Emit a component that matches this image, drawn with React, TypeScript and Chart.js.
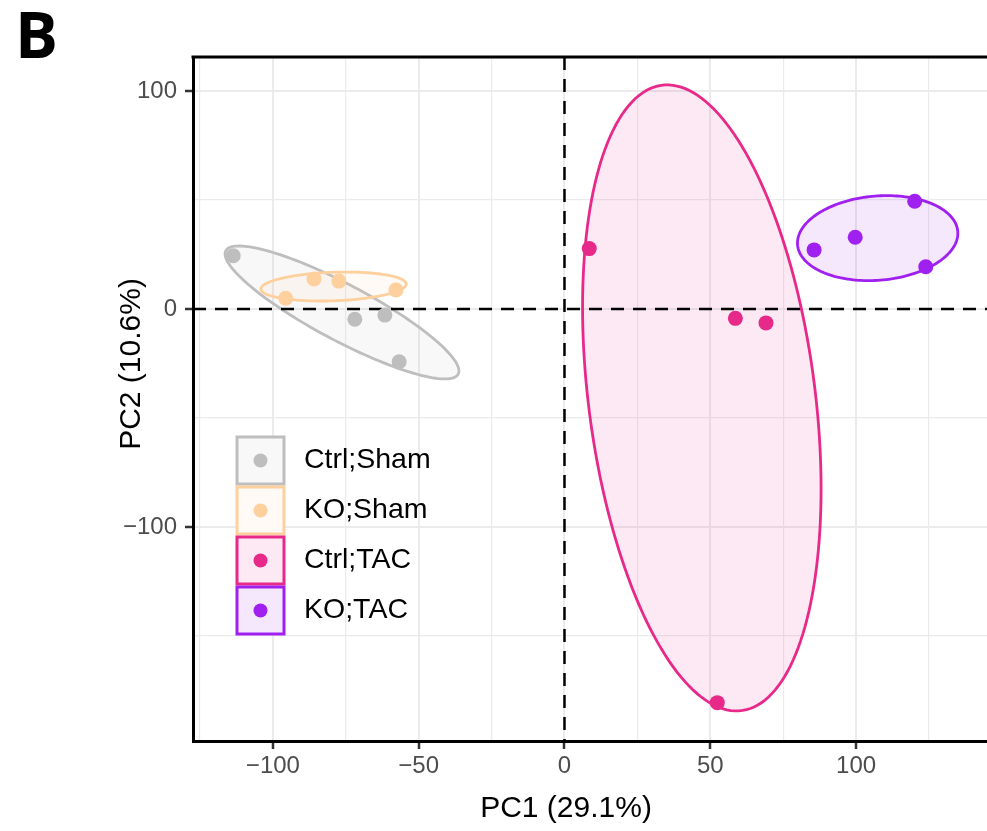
import React, { useEffect, useRef } from "react";
import { Chart, registerables } from "chart.js";

Chart.register(...registerables);

// ---- data ----
const groups = ["Ctrl;Sham", "KO;Sham", "Ctrl;TAC", "KO;TAC"];
const groupColors = ["#BEBEBE", "#FDD09E", "#E7298A", "#A020F0"];

const ctrlShamPC1 = [-113.6, -71.9, -61.6, -56.7];
const ctrlShamPC2 = [24.4, -4.7, -2.8, -24.2];
const koShamPC1 = [-95.6, -85.9, -77.4, -57.8];
const koShamPC2 = [4.9, 13.8, 12.8, 8.7];
const ctrlTacPC1 = [8.5, 58.6, 69.1, 52.4];
const ctrlTacPC2 = [27.7, -4.3, -6.4, -180.6];
const koTacPC1 = [85.6, 99.7, 120.1, 123.9];
const koTacPC2 = [27.1, 32.9, 49.4, 19.4];

// confidence ellipses per group (centre, half extents, correlation), in data units
const ellipseCX = [-76.3, -79.2, 47.1, 107.4];
const ellipseCY = [-1.6, 10.3, -40.8, 32.5];
const ellipseSX = [40.1, 24.9, 40.9, 27.5];
const ellipseSY = [30.5, 6.65, 143.6, 19.5];
const ellipseRho = [-0.88, 0.17, -0.29, 0.115];

const xMin = -127.4;
const xMax = 144.9;
const yMin = -198.2;
const yMax = 115.6;
const xTitle = "PC1 (29.1%)";
const yTitle = "PC2 (10.6%)";
const panelLabel = "B";

const seriesX = [ctrlShamPC1, koShamPC1, ctrlTacPC1, koTacPC1];
const seriesY = [ctrlShamPC2, koShamPC2, ctrlTacPC2, koTacPC2];

const FONT = "'Liberation Sans', Arial, Helvetica, sans-serif";
const CANVAS_W = 987;
const CANVAS_H = 831;

function hexA(hex: string, a: number) {
  const r = parseInt(hex.slice(1, 3), 16);
  const g = parseInt(hex.slice(3, 5), 16);
  const b = parseInt(hex.slice(5, 7), 16);
  return `rgba(${r},${g},${b},${a})`;
}

function fmt(v: number) {
  return v < 0 ? "\u2212" + Math.abs(v) : String(v);
}

const decorPlugin = {
  id: "decor",
  beforeDatasetsDraw(chart: any) {
    const { ctx, chartArea: a, scales } = chart;
    const xs = scales.x;
    const ys = scales.y;
    ctx.save();
    ctx.beginPath();
    ctx.rect(a.left, a.top, a.right - a.left, a.bottom - a.top);
    ctx.clip();
    for (let g = 0; g < groups.length; g++) {
      const cx = ellipseCX[g], cy = ellipseCY[g], sx = ellipseSX[g], sy = ellipseSY[g], r = ellipseRho[g];
      const q = Math.sqrt(1 - r * r);
      ctx.beginPath();
      const n = 180;
      for (let i = 0; i <= n; i++) {
        const t = (i / n) * Math.PI * 2;
        const dx = cx + sx * Math.cos(t);
        const dy = cy + sy * (r * Math.cos(t) + q * Math.sin(t));
        const px = xs.getPixelForValue(dx);
        const py = ys.getPixelForValue(dy);
        if (i === 0) ctx.moveTo(px, py);
        else ctx.lineTo(px, py);
      }
      ctx.closePath();
      ctx.fillStyle = hexA(groupColors[g], 0.1);
      ctx.fill();
      ctx.lineWidth = 2.8;
      ctx.strokeStyle = groupColors[g];
      ctx.stroke();
    }
    ctx.setLineDash([13, 9]);
    ctx.lineWidth = 2.5;
    ctx.strokeStyle = "#000";
    const x0 = xs.getPixelForValue(0);
    const y0 = ys.getPixelForValue(0);
    ctx.beginPath();
    ctx.moveTo(x0, a.top);
    ctx.lineTo(x0, a.bottom);
    ctx.stroke();
    ctx.beginPath();
    ctx.moveTo(a.left, y0);
    ctx.lineTo(a.right, y0);
    ctx.stroke();
    ctx.restore();
  },
  afterDraw(chart: any) {
    const { ctx, chartArea: a } = chart;
    ctx.save();
    ctx.strokeStyle = "#000";
    ctx.lineWidth = 3;
    ctx.beginPath();
    ctx.moveTo(a.left - 1.5, a.top);
    ctx.lineTo(a.right, a.top);
    ctx.stroke();
    // legend
    const bx = 237, by = 437, bw = 47, bh = 47, pitch = 50;
    ctx.textBaseline = "middle";
    ctx.textAlign = "left";
    ctx.font = `28.5px ${FONT}`;
    for (let g = 0; g < groups.length; g++) {
      const top = by + g * pitch;
      ctx.fillStyle = "#fff";
      ctx.fillRect(bx, top, bw, bh);
      ctx.fillStyle = hexA(groupColors[g], 0.1);
      ctx.fillRect(bx, top, bw, bh);
      ctx.lineWidth = 3;
      ctx.strokeStyle = groupColors[g];
      ctx.strokeRect(bx, top, bw, bh);
      ctx.beginPath();
      ctx.arc(bx + bw / 2, top + bh / 2, 7, 0, Math.PI * 2);
      ctx.fillStyle = groupColors[g];
      ctx.fill();
      ctx.fillStyle = "#000";
      ctx.fillText(groups[g], 304, top + bh / 2);
    }
    ctx.fillStyle = "#000";
    ctx.font = `30px ${FONT}`;
    ctx.textAlign = "center";
    ctx.fillText(xTitle, 566, 809);
    ctx.save();
    ctx.translate(132, 364);
    ctx.rotate(-Math.PI / 2);
    ctx.fillText(yTitle, 0, 0);
    ctx.restore();
    ctx.font = `bold 64px 'Open Sans', ${FONT}`;
    ctx.textAlign = "left";
    ctx.textBaseline = "alphabetic";
    ctx.fillText(panelLabel, 15, 58);
    ctx.restore();
  },
};

export default function App() {
  const ref = useRef<HTMLCanvasElement | null>(null);
  useEffect(() => {
    if (!ref.current) return;
    const datasets = groups.map((g, i) => ({
      label: g,
      data: seriesX[i].map((x, j) => ({ x, y: seriesY[i][j] })),
      backgroundColor: groupColors[i],
      borderWidth: 0,
      pointRadius: 7.5,
      pointHoverRadius: 7.5,
    }));
    const gridCommon = (major: (v: number) => boolean) => ({
      color: "#EBEBEB",
      lineWidth: (c: any) => (c.tick && major(c.tick.value) ? 2 : 1.2),
      drawTicks: true,
      tickLength: 8,
      tickWidth: 2.5,
      tickColor: (c: any) => (c.tick && major(c.tick.value) ? "#333333" : "rgba(0,0,0,0)"),
    });
    const isMajX = (v: number) => Math.abs(v % 50) < 1e-6;
    const isMajY = (v: number) => Math.abs(v % 100) < 1e-6;
    const chart: any = new Chart(ref.current, {
      type: "scatter",
      data: { datasets },
      plugins: [decorPlugin],
      options: {
        animation: false,
        responsive: false,
        maintainAspectRatio: false,
        layout: { autoPadding: false, padding: { top: 57, left: 0, right: 0, bottom: 0 } },
        plugins: { legend: { display: false }, tooltip: { enabled: false } },
        scales: {
          x: {
            type: "linear",
            min: xMin,
            max: xMax,
            afterFit: (s: any) => {
              s.height = 90;
              s.paddingLeft = 0;
              s.paddingRight = 0;
            },
            ticks: {
              stepSize: 25,
              includeBounds: false,
              autoSkip: false,
              maxRotation: 0,
              padding: 3,
              color: "#4D4D4D",
              font: { family: FONT, size: 24 },
              callback: (v: any) => (isMajX(Number(v)) ? fmt(Number(v)) : ""),
            },
            grid: gridCommon(isMajX),
            border: { display: true, color: "#000", width: 3 },
          },
          y: {
            type: "linear",
            min: yMin,
            max: yMax,
            afterFit: (s: any) => {
              s.width = 193;
              s.paddingTop = 0;
              s.paddingBottom = 0;
            },
            ticks: {
              stepSize: 50,
              includeBounds: false,
              autoSkip: false,
              padding: 8,
              color: "#4D4D4D",
              font: { family: FONT, size: 24 },
              callback: (v: any) => (isMajY(Number(v)) ? fmt(Number(v)) : ""),
            },
            grid: gridCommon(isMajY),
            border: { display: true, color: "#000", width: 3 },
          },
        },
      } as any,
    });
    // make sure the plot panel reaches the right edge of the canvas
    const gap = CANVAS_W - chart.chartArea.right;
    if (Math.abs(gap) > 0.5) {
      chart.options.layout.padding.right = -gap;
      chart.update();
    }
    return () => chart.destroy();
  }, []);
  return (
    <div style={{ position: "absolute", left: 0, top: 0, width: CANVAS_W, height: CANVAS_H, background: "#fff" }}>
      <canvas ref={ref} width={CANVAS_W} height={CANVAS_H} style={{ display: "block" }} />
    </div>
  );
}
